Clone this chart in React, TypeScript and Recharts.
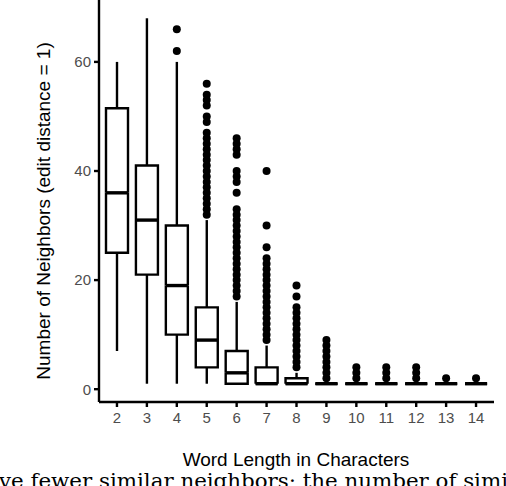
import { ComposedChart, Bar, Scatter, XAxis, YAxis } from 'recharts'

const LENGTHS = ['2', '3', '4', '5', '6', '7', '8', '9', '10', '11', '12', '13', '14']
const WHISKER_LO = [7, 1, 1, 1, 1, 1, 1, 1, 1, 1, 1, 1, 1]
const Q1 = [25, 21, 10, 4, 1, 1, 1, 1, 1, 1, 1, 1, 1]
const MEDIAN = [36, 31, 19, 9, 3, 1, 1, 1, 1, 1, 1, 1, 1]
const Q3 = [51.5, 41, 30, 15, 7, 4, 2, 1, 1, 1, 1, 1, 1]
const WHISKER_HI = [60, 68, 60, 31, 16, 8, 3, 1, 1, 1, 1, 1, 1]
const OUTLIERS: number[][] = [
  [],
  [],
  [62, 66],
  [32, 33, 34, 35, 36, 37, 38, 39, 40, 41, 42, 43, 44, 45, 46, 47, 49, 50, 52, 53, 54, 56],
  [17, 18, 19, 20, 21, 22, 23, 24, 25, 26, 27, 28, 29, 30, 31, 32, 33, 36, 38, 39, 40, 43, 44, 45, 46],
  [9, 10, 11, 12, 13, 14, 15, 16, 17, 18, 19, 20, 21, 22, 23, 24, 26, 30, 40],
  [4, 5, 6, 7, 8, 9, 10, 11, 12, 13, 14, 15, 17, 19],
  [2, 3, 4, 5, 6, 7, 8, 9],
  [2, 3, 4],
  [2, 3, 4],
  [2, 3, 4],
  [2],
  [2],
]
const Y_TICKS = [0, 20, 40, 60]
const Y_DOMAIN = [-2.35, 71.35]

const INK = '#000'
const LW = 2.4

const rows = LENGTHS.map((len, i) => ({
  len,
  base: WHISKER_LO[i],
  lowW: Q1[i] - WHISKER_LO[i],
  boxLo: MEDIAN[i] - Q1[i],
  boxHi: Q3[i] - MEDIAN[i],
  hiW: WHISKER_HI[i] - Q3[i],
}))

const points = LENGTHS.flatMap((len, i) => OUTLIERS[i].map((v) => ({ len, v })))

function Whisker({ x, y, width, height }: any) {
  if (!(height > 0)) return null
  const cx = x + width / 2
  return <line x1={cx} x2={cx} y1={y} y2={y + height} stroke={INK} strokeWidth={LW} />
}

function BoxLower({ x, y, width, height }: any) {
  const h = height || 0
  return (
    <path
      d={`M${x},${y} L${x},${y + h} L${x + width},${y + h} L${x + width},${y}`}
      fill="none"
      stroke={INK}
      strokeWidth={LW}
    />
  )
}

function BoxUpper({ x, y, width, height }: any) {
  const h = height || 0
  return (
    <g>
      <path
        d={`M${x},${y + h} L${x},${y} L${x + width},${y} L${x + width},${y + h}`}
        fill="none"
        stroke={INK}
        strokeWidth={LW}
      />
      <line x1={x} x2={x + width} y1={y + h} y2={y + h} stroke={INK} strokeWidth={3.4} />
    </g>
  )
}

function OutlierDot(props: any) {
  const { cx, cy } = props
  if (cx == null || cy == null) return null
  return <circle cx={cx} cy={cy} r={4} fill={INK} stroke="none" />
}

const tickStyle = { fill: '#4d4d4d', fontSize: 15, fontFamily: 'Liberation Sans' }

export default function App() {
  return (
    <div
      style={{
        position: 'absolute',
        left: 0,
        top: 0,
        width: 506,
        height: 486,
        overflow: 'hidden',
        background: '#fff',
      }}
    >
      <ComposedChart width={506} height={486} data={rows} margin={{ top: 0, right: 12, bottom: 0, left: 39 }}>
        <XAxis
          dataKey="len"
          type="category"
          allowDuplicatedCategory={false}
          height={84}
          padding={{ left: 3, right: 3 }}
          tick={tickStyle}
          tickSize={5}
          tickMargin={5}
          axisLine={{ stroke: INK, strokeWidth: LW }}
          tickLine={{ stroke: INK, strokeWidth: LW }}
          interval={0}
        />
        <YAxis
          type="number"
          domain={Y_DOMAIN}
          ticks={Y_TICKS}
          width={60}
          tick={tickStyle}
          tickSize={5}
          tickMargin={3}
          axisLine={{ stroke: INK, strokeWidth: LW }}
          tickLine={{ stroke: INK, strokeWidth: LW }}
          allowDataOverflow
        />
        <Bar dataKey="base" stackId="b" barSize={22} fill="none" shape={() => null} isAnimationActive={false} />
        <Bar dataKey="lowW" stackId="b" barSize={22} shape={Whisker} isAnimationActive={false} />
        <Bar dataKey="boxLo" stackId="b" barSize={22} shape={BoxLower} isAnimationActive={false} />
        <Bar dataKey="boxHi" stackId="b" barSize={22} shape={BoxUpper} isAnimationActive={false} />
        <Bar dataKey="hiW" stackId="b" barSize={22} shape={Whisker} isAnimationActive={false} />
        <Scatter data={points} dataKey="v" fill={INK} isAnimationActive={false} shape={OutlierDot} />
      </ComposedChart>
      <svg width={506} height={486} style={{ position: 'absolute', left: 0, top: 0, pointerEvents: 'none' }}>
        <text
          transform="translate(50,211) rotate(-90)"
          textAnchor="middle"
          fontFamily="Liberation Sans"
          fontSize={19}
          fill="#000"
        >
          Number of Neighbors (edit distance = 1)
        </text>
        <text x={296} y={466} textAnchor="middle" fontFamily="Liberation Sans" fontSize={19} fill="#000">
          Word Length in Characters
        </text>
        <text
          x={-1}
          y={488}
          fontFamily="DejaVu Serif"
          fontSize={20}
          fill="#000"
          textLength={509}
          lengthAdjust="spacingAndGlyphs"
        >
          ve fewer similar neighbors; the number of simi
        </text>
      </svg>
    </div>
  )
}
